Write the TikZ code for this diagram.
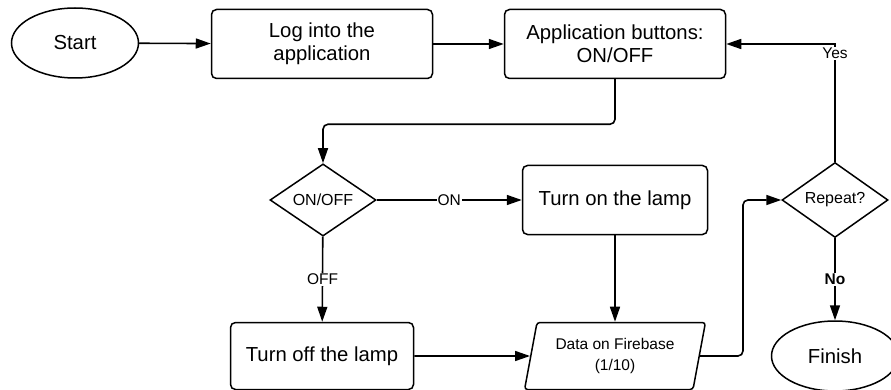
\documentclass[tikz,border=0pt]{standalone}
\usepackage{fontspec}
\setmainfont{Liberation Sans}
\usetikzlibrary{shapes.geometric, arrows.meta, positioning}

\begin{document}
\begin{tikzpicture}[
    x=1pt, y=-1pt,
    line width=1.5pt,
    terminal/.style={ellipse, draw, minimum width=127pt, minimum height=70pt, inner sep=0pt, font=\fontsize{20.3}{23}\selectfont},
    block/.style={rectangle, draw, rounded corners=5pt, minimum height=69pt, text centered, inner sep=0pt, font=\fontsize{20.3}{23}\selectfont},
    decision/.style={diamond, draw, minimum width=106pt, minimum height=66pt, inner sep=0pt, font=\fontsize{16}{18}\selectfont},
    io/.style={trapezium, draw, trapezium left angle=75, trapezium right angle=105, trapezium stretches=true, minimum width=181pt, minimum height=67pt, rounded corners=3pt, inner sep=0pt, align=center, font=\fontsize{15.5}{21}\selectfont},
    arrow/.style={-{Triangle[length=15pt, width=10pt]}, line width=1.6pt},
    tag/.style={fill=white, inner sep=1pt, font=\fontsize{15.5}{18}\selectfont}
]

% page
\fill[white] (0,0) rectangle (891,390);
\useasboundingbox (0,0) rectangle (891,390);

% Top row
\node[terminal] (start) at (75,43) {Start};
\node[block, minimum width=221pt, align=center] (login) at (322,44) {Log into the\\application};
\node[block, minimum width=221pt, align=center] (buttons) at (615,44) {Application buttons:\\ON/OFF};

% Middle row
\node[decision] (onoff) at (323,200) {ON/OFF};
\node[block, minimum width=185pt] (lampon) at (615,200) {Turn on the lamp};
\node[decision] (repeat) at (835,200) {Repeat?};

% Bottom row
\node[block, minimum width=183pt, minimum height=67pt] (lampoff) at (322,356) {Turn off the lamp};
\node[io] (firebase) at (615,356) {Data on Firebase\\(1/10)};
\node[terminal] (finish) at (835,356) {Finish};

% Arrows
\draw[arrow] (start) -- (login);
\draw[arrow] (login) -- (buttons);
\draw[arrow, rounded corners=5pt] (buttons.south) -- ++(0,45) -| (onoff.north);
\draw[arrow] (onoff) -- node[tag] {ON} (lampon);
\draw[arrow] (onoff) -- node[tag] {OFF} (lampoff);
\draw[arrow] (lampon) -- (firebase);
\draw[arrow] (lampoff) -- (firebase);
\draw[arrow, rounded corners=5pt] (firebase.east) -- ++(43,0) |- (repeat.west);
\draw[arrow] (repeat.north) |- node[tag, pos=0.46] {Yes} (buttons.east);
\draw[arrow] (repeat) -- node[tag, font=\fontsize{15.5}{18}\selectfont\bfseries] {No} (finish);

\end{tikzpicture}
\end{document}
